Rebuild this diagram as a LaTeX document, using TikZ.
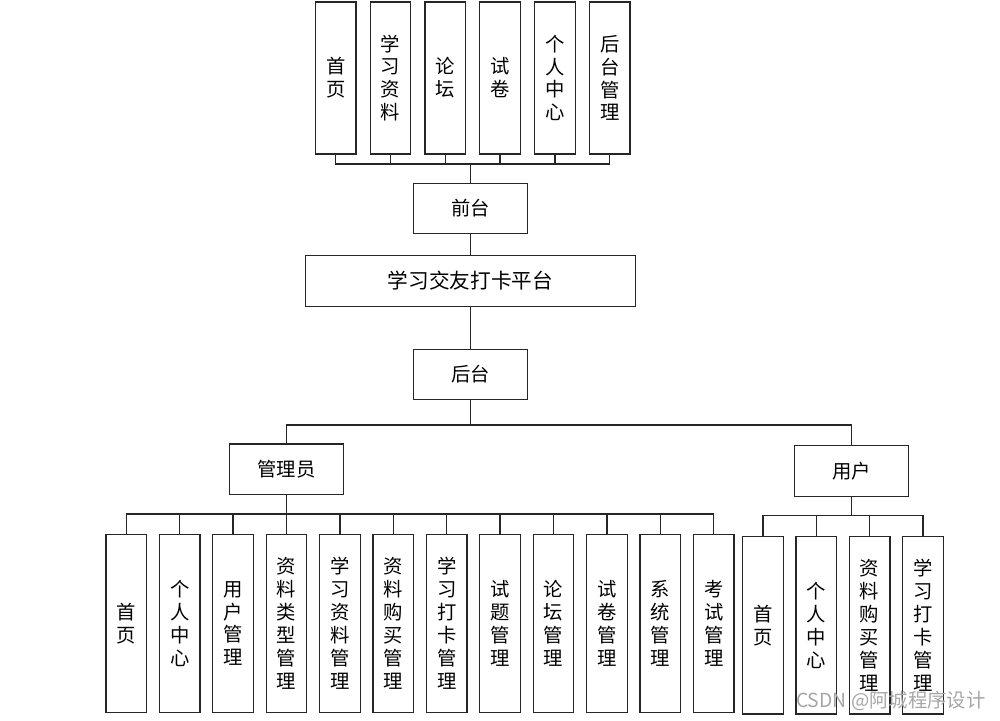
\documentclass[tikz,border=0pt]{standalone}
\usepackage{fontspec}
\setmainfont{Noto Sans CJK SC}
\begin{document}
\begin{tikzpicture}[x=0.75pt,y=-0.75pt,
  line width=0.95pt,
  box/.style={draw=black!85, line width=0.95pt, inner sep=0pt, align=center,
    font=\fontsize{14.5pt}{17.2pt}\selectfont},
  vbox/.style={box, minimum width=30.5pt, minimum height=#1},
  hbox/.style={box, minimum width=85.8pt, minimum height=38pt},
  conn/.style={draw=black!85, line width=0.95pt}]
\useasboundingbox (0,0) rectangle (1000,721);
% top row
\foreach \i/\t in {1/{首\\页},2/{学\\习\\资\\料},3/{论\\坛},4/{试\\卷},5/{个\\人\\中\\心},6/{后\\台\\管\\理}}
  \node[vbox=114pt] (t\i) at ({335.7+54.8*(\i-1)},78) {\t};
\node[hbox] (qt) at (470.5,208.5) {前台};
\node[box, minimum width=247.8pt, minimum height=38pt, font=\fontsize{15.5pt}{18pt}\selectfont] (plat) at (470.5,281) {学习交友打卡平台};
\node[hbox] (ht) at (470.5,374.5) {后台};
\node[hbox] (gly) at (286.5,469.4) {管理员};
\node[hbox] (yh) at (851.5,471) {用户};
% admin row
\foreach \i/\t in {1/{首\\页},2/{个\\人\\中\\心},3/{用\\户\\管\\理},4/{资\\料\\类\\型\\管\\理},5/{学\\习\\资\\料\\管\\理},6/{资\\料\\购\\买\\管\\理},7/{学\\习\\打\\卡\\管\\理},8/{试\\题\\管\\理},9/{论\\坛\\管\\理},10/{试\\卷\\管\\理},11/{系\\统\\管\\理},12/{考\\试\\管\\理}}
  \node[vbox=133.8pt] (a\i) at ({126.3+53.4*(\i-1)},623.5) {\t};
% user row
\foreach \i/\t in {1/{首\\页},2/{个\\人\\中\\心},3/{资\\料\\购\\买\\管\\理},4/{学\\习\\打\\卡\\管\\理}}
  \node[vbox=133.3pt] (u\i) at ({763+53.3*(\i-1)},625.2) {\t};
% connectors
\coordinate (tb) at (470.5,164);
\foreach \i in {1,...,6} \draw[conn] (t\i.south) |- (tb);
\draw[conn] (tb) -- (qt.north);
\draw[conn] (qt.south) -- (plat.north);
\draw[conn] (plat.south) -- (ht.north);
\coordinate (hb) at (470.5,425);
\draw[conn] (ht.south) -- (hb);
\draw[conn] (hb) -| (gly.north);
\draw[conn] (hb) -| (yh.north);
\coordinate (gb) at (286.5,514);
\draw[conn] (gly.south) -- (gb);
\foreach \i in {1,...,12} \draw[conn] (a\i.north) |- (gb);
\coordinate (ub) at (851.5,515.7);
\draw[conn] (yh.south) -- (ub);
\foreach \i in {1,...,4} \draw[conn] (u\i.north) |- (ub);
% watermark
\node[text=black!35, font=\fontsize{14.5pt}{16pt}\selectfont, inner sep=0pt, anchor=east] (wm) at (986,701) {CSDN @阿城程序设计};
\end{tikzpicture}
\end{document}
